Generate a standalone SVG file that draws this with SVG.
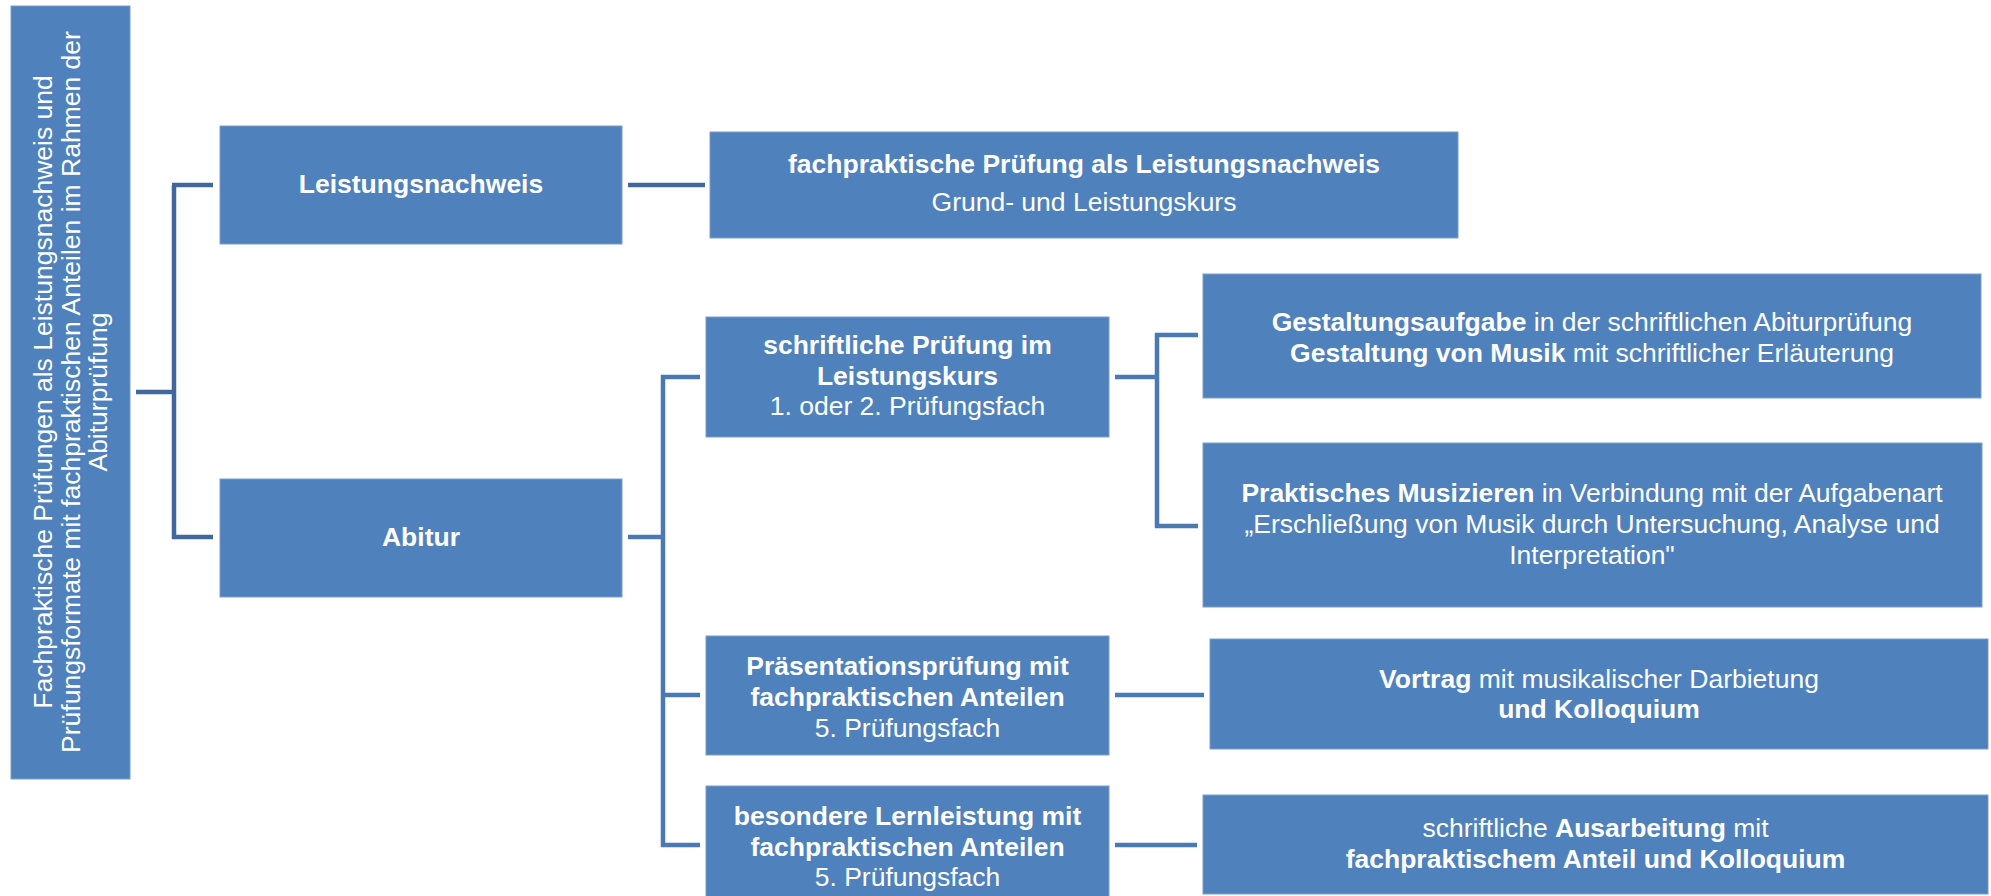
<svg xmlns="http://www.w3.org/2000/svg" width="1991" height="896" viewBox="0 0 1991 896">
<style>
.box{fill:#4F81BD;stroke:#7C9DCB;stroke-width:1}
.t{font-family:"Liberation Sans",Arial,sans-serif;font-size:26.5px;fill:#FFFFFF;text-anchor:middle}
.b{font-weight:bold}
.c1{fill:none;stroke:#41689C;stroke-width:4.5}
.c2{fill:none;stroke:#4A79B4;stroke-width:4.5}
</style>
<rect width="1991" height="896" fill="#FFFFFF"/>
<g id="connectors">
<path class="c1" d="M136,392 H174 M174,185 V539 M172,185 H213 M172,537 H213"/>
<path class="c1" d="M628,185 H705"/>
<path class="c2" d="M628,537 H663 M663,375 V847 M661,377 H700 M661,695 H700 M661,845 H700"/>
<path class="c2" d="M1115,377 H1157 M1157,333 V528 M1155,335 H1198 M1155,526 H1198"/>
<path class="c2" d="M1115,695 H1204"/>
<path class="c2" d="M1115,845 H1197"/>
</g>
<g id="root">
<rect class="box" x="11" y="6" width="119" height="773"/>
<text class="t" transform="translate(52,392) rotate(-90)">Fachpraktische Prüfungen als Leistungsnachweis und</text>
<text class="t" transform="translate(79.5,392) rotate(-90)">Prüfungsformate mit fachpraktischen Anteilen im Rahmen der</text>
<text class="t" transform="translate(107,392) rotate(-90)">Abiturprüfung</text>
</g>
<g id="leistungsnachweis">
<rect class="box" x="220" y="126" width="402" height="118"/>
<text class="t b" x="421" y="193">Leistungsnachweis</text>
</g>
<g id="abitur">
<rect class="box" x="220" y="479" width="402" height="118"/>
<text class="t b" x="421" y="546">Abitur</text>
</g>
<g id="fachpraktische-pruefung">
<rect class="box" x="710" y="132" width="748" height="106"/>
<text class="t b" x="1084" y="173">fachpraktische Prüfung als Leistungsnachweis</text>
<text class="t" x="1084" y="211">Grund- und Leistungskurs</text>
</g>
<g id="schriftliche-pruefung">
<rect class="box" x="706" y="317" width="403" height="120"/>
<text class="t b" x="907.5" y="354">schriftliche Prüfung im</text>
<text class="t b" x="907.5" y="385">Leistungskurs</text>
<text class="t" x="907.5" y="415">1. oder 2. Prüfungsfach</text>
</g>
<g id="praesentationspruefung">
<rect class="box" x="706" y="636" width="403" height="119"/>
<text class="t b" x="907.5" y="675">Präsentationsprüfung mit</text>
<text class="t b" x="907.5" y="706">fachpraktischen Anteilen</text>
<text class="t" x="907.5" y="737">5. Prüfungsfach</text>
</g>
<g id="besondere-lernleistung">
<rect class="box" x="706" y="786" width="403" height="112"/>
<text class="t b" x="907.5" y="825">besondere Lernleistung mit</text>
<text class="t b" x="907.5" y="856">fachpraktischen Anteilen</text>
<text class="t" x="907.5" y="886">5. Prüfungsfach</text>
</g>
<g id="gestaltungsaufgabe">
<rect class="box" x="1203" y="274" width="778" height="124"/>
<text class="t" x="1592" y="331"><tspan class="b">Gestaltungsaufgabe</tspan> in der schriftlichen Abiturprüfung</text>
<text class="t" x="1592" y="362"><tspan class="b">Gestaltung von Musik</tspan> mit schriftlicher Erläuterung</text>
</g>
<g id="praktisches-musizieren">
<rect class="box" x="1203" y="443" width="779" height="164"/>
<text class="t" x="1592" y="502"><tspan class="b">Praktisches Musizieren</tspan> in Verbindung mit der Aufgabenart</text>
<text class="t" x="1592" y="533">„Erschließung von Musik durch Untersuchung, Analyse und</text>
<text class="t" x="1592" y="564">Interpretation"</text>
</g>
<g id="vortrag">
<rect class="box" x="1210" y="639" width="778" height="110"/>
<text class="t" x="1599" y="688"><tspan class="b">Vortrag</tspan> mit musikalischer Darbietung</text>
<text class="t b" x="1599" y="718">und Kolloquium</text>
</g>
<g id="ausarbeitung">
<rect class="box" x="1203" y="795" width="785" height="99"/>
<text class="t" x="1595.5" y="837">schriftliche <tspan class="b">Ausarbeitung</tspan> mit</text>
<text class="t b" x="1595.5" y="868">fachpraktischem Anteil und Kolloquium</text>
</g>
</svg>
